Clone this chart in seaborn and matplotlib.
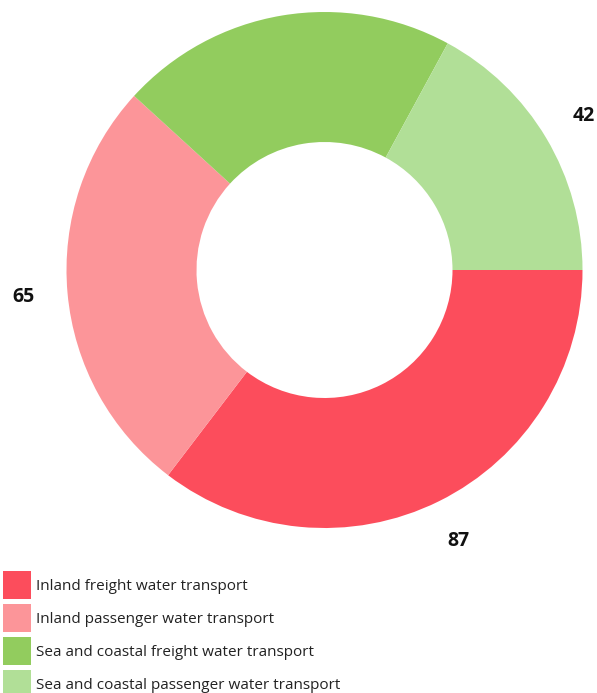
#%% IMPORTS
import numpy as np
import seaborn as sns
from matplotlib import pyplot as plt
from matplotlib.patches import Patch

#%% DATA
categories = [
    "Inland freight water transport",
    "Inland passenger water transport",
    "Sea and coastal freight water transport",
    "Sea and coastal passenger water transport",
]
values = [87, 65, 52, 42]
value_labels = ["87", "65", "", "42"]  # top label falls outside the picture
colors = ["#fc4d5c", "#fc9599", "#92cc5e", "#b1df97"]

#%% STYLE
sns.set_theme(style="white")
plt.rcParams["font.family"] = ["Open Sans", "DejaVu Sans"]

#%% PLOT
W, H = 597, 693
fig = plt.figure(figsize=(W / 100, H / 100), dpi=100)
ax = fig.add_axes([0, 0, 1, 1])

cx, cy, r_out, ring = 324.5, H - 270, 258, 130
wedges, _ = ax.pie(values, colors=colors, startangle=0, counterclock=False,
                   radius=r_out, center=(cx, cy),
                   wedgeprops=dict(width=ring, linewidth=0))

# value labels outside each wedge
for w, lab in zip(wedges, value_labels):
    if not lab:
        continue
    ang = np.deg2rad((w.theta1 + w.theta2) / 2)
    ax.text(cx + 302 * np.cos(ang), cy + 302 * np.sin(ang), lab,
            ha="center", va="center", fontsize=14, fontweight="bold",
            color="#111111")

ax.set_xlim(0, W)
ax.set_ylim(0, H)
ax.set_aspect("equal")
ax.axis("off")

# legend squares ~28 px, rows ~33 px apart
handles = [Patch(facecolor=c, edgecolor="none") for c in colors]
fig.legend(handles, categories, loc="upper left",
           bbox_to_anchor=(3 / W, 1 - 571 / H), frameon=False,
           fontsize=11, handlelength=1.83, handleheight=2.44,
           handletextpad=0.3, labelspacing=0.33, borderpad=0,
           borderaxespad=0, labelcolor="#222222")

fig.savefig("out.png", dpi=100)
